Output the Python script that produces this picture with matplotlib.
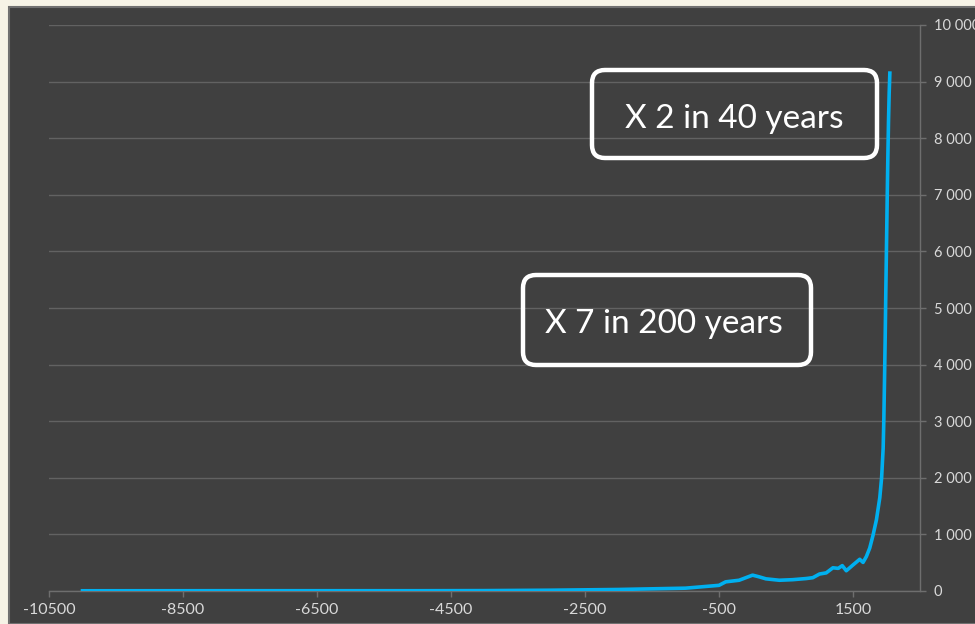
import matplotlib
matplotlib.use("Agg")
import matplotlib.pyplot as plt
from matplotlib.patches import Rectangle, FancyBboxPatch
from matplotlib.ticker import FuncFormatter, FixedLocator

plt.rcParams["font.family"] = ["Lato", "DejaVu Sans"]
plt.rcParams["axes.unicode_minus"] = False

# World population estimates (millions) by year
years = [-10000, -8000, -6500, -5000, -4000, -3000, -2000, -1000, -500, -400,
         -200, 1, 100, 200, 400, 600, 800, 900, 1000, 1100,
         1200, 1280, 1340, 1400, 1500, 1600, 1650, 1700, 1750, 1800,
         1850, 1900, 1927, 1950, 1960, 1970, 1980, 1990, 2000, 2010,
         2020, 2030, 2040, 2050]
population = [4, 5, 5, 5, 7, 14, 27, 50, 100, 162,
              190, 280, 250, 215, 190, 200, 220, 235, 300, 320,
              410, 400, 448, 358, 460, 560, 505, 610, 760, 990,
              1260, 1650, 2000, 2520, 3020, 3700, 4440, 5310, 6100, 6900,
              7650, 8300, 8800, 9150]

x_ticks = [-10500, -8500, -6500, -4500, -2500, -500, 1500]
y_ticks = [0, 1000, 2000, 3000, 4000, 5000, 6000, 7000, 8000, 9000, 10000]

callouts = ["X 2 in 40 years", "X 7 in 200 years"]

W, H = 975, 624
fig = plt.figure(figsize=(W / 100, H / 100), dpi=100)
fig.patch.set_facecolor("#f6f3e6")

# dark chart panel
panel = Rectangle((9 / W, 0), 1.0, 1 - 7 / H, transform=fig.transFigure,
                  facecolor="#404040", edgecolor="#707070", linewidth=1.5,
                  zorder=-5)
fig.add_artist(panel)

ax = fig.add_axes([49 / W, 33 / H, 871 / W, 566 / H])
ax.set_facecolor("none")

ax.plot(years, population, color="#00b0f0", linewidth=2.6,
        solid_joinstyle="round", zorder=3)

ax.set_xlim(-10500, 2500)
ax.set_ylim(0, 10000)

ax.xaxis.set_major_locator(FixedLocator(x_ticks))
ax.set_xticklabels([str(v) for v in x_ticks])
ax.yaxis.set_major_locator(FixedLocator(y_ticks))
ax.yaxis.set_major_formatter(
    FuncFormatter(lambda v, _: f"{v:,.0f}".replace(",", " ")))

ax.yaxis.tick_right()
ax.grid(axis="y", color="#626262", linewidth=1.0)
ax.set_axisbelow(True)

for side in ("top", "left"):
    ax.spines[side].set_visible(False)
for side in ("bottom", "right"):
    ax.spines[side].set_color("#6e6e6e")
    ax.spines[side].set_linewidth(1.0)

ax.tick_params(axis="x", colors="#6e6e6e", labelcolor="#d9d9d9",
               labelsize=11.5, length=4, width=1, pad=5)
ax.tick_params(axis="y", colors="#6e6e6e", labelcolor="#d9d9d9",
               labelsize=10.5, length=4, width=1, pad=6,
               left=False, right=True)

# callout boxes (pixel geometry converted to inches)
def px_box(x0, y0, x1, y1):
    return (x0 / 100, (H - y1) / 100, (x1 - x0) / 100, (y1 - y0) / 100)

boxes = [px_box(592, 70, 877, 158), px_box(523, 275, 811, 365)]
text_pos = [(734, 128), (664, 333)]
for (bx, by, bw, bh), label, (tx, ty) in zip(boxes, callouts, text_pos):
    fig.add_artist(FancyBboxPatch(
        (bx, by), bw, bh, boxstyle="round,pad=0,rounding_size=0.13",
        transform=fig.dpi_scale_trans, facecolor="none",
        edgecolor="white", linewidth=3.2, zorder=4))
    fig.text(tx / W, 1 - ty / H, label, color="white", fontsize=24,
             ha="center", va="baseline", zorder=5)

fig.savefig("out.png", dpi=100, facecolor=fig.get_facecolor())
